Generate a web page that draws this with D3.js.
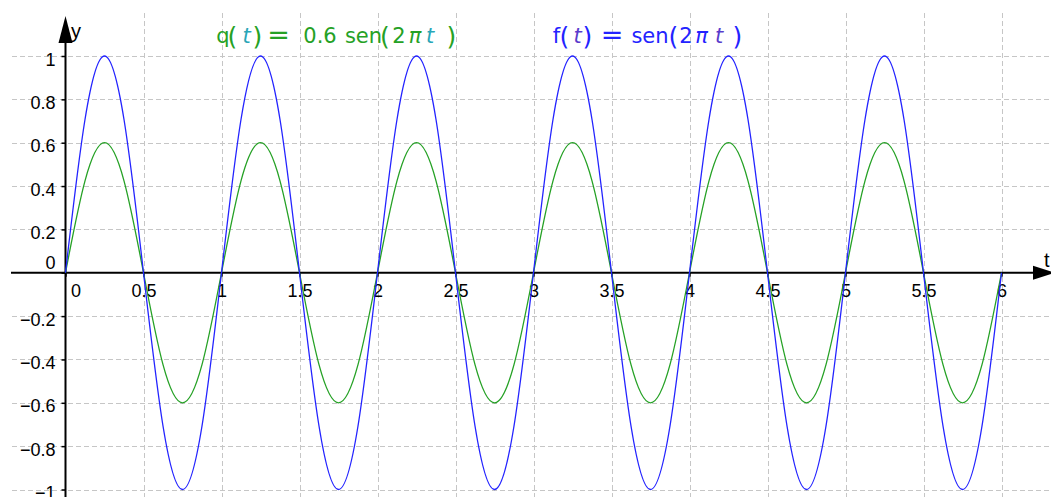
<!DOCTYPE html>
<html>
<head>
<meta charset="utf-8">
<script src="https://cdn.jsdelivr.net/npm/d3@7"></script>
<style>
  body { margin: 0; background: #fff; }
  svg { display: block; }
</style>
</head>
<body>
<svg id="chart" width="1051" height="497"></svg>
<script>
// sample points, every 1/8 of a period
var tSamples = [
  0, 0.125, 0.25, 0.375, 0.5, 0.625, 0.75, 0.875,
  1, 1.125, 1.25, 1.375, 1.5, 1.625, 1.75, 1.875,
  2, 2.125, 2.25, 2.375, 2.5, 2.625, 2.75, 2.875,
  3, 3.125, 3.25, 3.375, 3.5, 3.625, 3.75, 3.875,
  4, 4.125, 4.25, 4.375, 4.5, 4.625, 4.75, 4.875,
  5, 5.125, 5.25, 5.375, 5.5, 5.625, 5.75, 5.875,
  6
];
var fValues = [
  0, 0.707, 1, 0.707, 0, -0.707, -1, -0.707,
  0, 0.707, 1, 0.707, 0, -0.707, -1, -0.707,
  0, 0.707, 1, 0.707, 0, -0.707, -1, -0.707,
  0, 0.707, 1, 0.707, 0, -0.707, -1, -0.707,
  0, 0.707, 1, 0.707, 0, -0.707, -1, -0.707,
  0, 0.707, 1, 0.707, 0, -0.707, -1, -0.707,
  0
];
var qValues = [
  0, 0.424, 0.6, 0.424, 0, -0.424, -0.6, -0.424,
  0, 0.424, 0.6, 0.424, 0, -0.424, -0.6, -0.424,
  0, 0.424, 0.6, 0.424, 0, -0.424, -0.6, -0.424,
  0, 0.424, 0.6, 0.424, 0, -0.424, -0.6, -0.424,
  0, 0.424, 0.6, 0.424, 0, -0.424, -0.6, -0.424,
  0, 0.424, 0.6, 0.424, 0, -0.424, -0.6, -0.424,
  0
];

var xTicks = [0, 0.5, 1, 1.5, 2, 2.5, 3, 3.5, 4, 4.5, 5, 5.5, 6];
var xTickLabels = ["0", "0.5", "1", "1.5", "2", "2.5", "3", "3.5", "4", "4.5", "5", "5.5", "6"];
var yTicks = [-1, -0.8, -0.6, -0.4, -0.2, 0, 0.2, 0.4, 0.6, 0.8, 1];
var yTickLabels = ["\u22121", "\u22120.8", "\u22120.6", "\u22120.4", "\u22120.2", "0", "0.2", "0.4", "0.6", "0.8", "1"];

// formula labels, one token per entry
var qLabelTokens = ["q", "(", "t", ")", "=", "0.6", "sen", "(", "2", "\u03c0", "t", ")"];
var fLabelTokens = ["f", "(", "t", ")", "=", "sen", "(", "2", "\u03c0", "t", ")"];

var width = 1051, height = 497;
var blue = "#2323ff", green = "#25a125";

var svg = d3.select("#chart");

var x = d3.scaleLinear().domain([0, 6]).range([65.5, 1001.5]);
var y = d3.scaleLinear().domain([-1, 1]).range([489.5, 56]);

// grid
var grid = svg.append("g")
  .attr("stroke", "#c6c6c6")
  .attr("stroke-width", 1)
  .attr("stroke-dasharray", "5,3");

grid.selectAll(".vgrid")
  .data(xTicks.filter(function(d) { return d !== 0; }))
  .enter().append("line")
  .attr("x1", function(d) { return Math.round(x(d)) + 0.5; })
  .attr("x2", function(d) { return Math.round(x(d)) + 0.5; })
  .attr("y1", 13)
  .attr("y2", height);

grid.selectAll(".hgrid")
  .data(yTicks.filter(function(d) { return d !== 0; }))
  .enter().append("line")
  .attr("x1", 12)
  .attr("x2", width)
  .attr("y1", function(d) { return Math.round(y(d)) + 0.5; })
  .attr("y2", function(d) { return Math.round(y(d)) + 0.5; });

// axes
var y0 = y(0), x0 = x(0);

svg.append("line")
  .attr("x1", 11).attr("x2", 1036)
  .attr("y1", y0).attr("y2", y0)
  .attr("stroke", "#000").attr("stroke-width", 2);
svg.append("path")
  .attr("d", "M1033," + (y0 - 7) + "L1055," + y0 + "L1033," + (y0 + 7) + "Z")
  .attr("fill", "#000");

svg.append("line")
  .attr("x1", x0).attr("x2", x0)
  .attr("y1", height).attr("y2", 40)
  .attr("stroke", "#000").attr("stroke-width", 2);
svg.append("path")
  .attr("d", "M" + (x0 - 7) + ",43L" + x0 + ",16L" + (x0 + 7) + ",43Z")
  .attr("fill", "#000");

var xAxis = d3.axisBottom(x)
  .tickValues(xTicks)
  .tickSize(4)
  .tickFormat(function(d, i) { return xTickLabels[i]; });

var gx = svg.append("g")
  .attr("transform", "translate(0," + y0 + ")")
  .call(xAxis);
gx.select(".domain").remove();
gx.selectAll("line").attr("stroke", "#000").attr("stroke-width", 1.5);
gx.selectAll("text")
  .attr("y", 24)
  .attr("dy", 0)
  .attr("fill", "#000")
  .style("font-family", "Liberation Sans, Arial, sans-serif")
  .style("font-size", "18px");
gx.selectAll(".tick").filter(function(d) { return d === 0; })
  .select("text").attr("x", 10);

var yAxis = d3.axisLeft(y)
  .tickValues(yTicks)
  .tickSize(4)
  .tickPadding(6)
  .tickFormat(function(d, i) { return yTickLabels[i]; });

var gy = svg.append("g")
  .attr("transform", "translate(" + x0 + ",0)")
  .call(yAxis);
gy.select(".domain").remove();
gy.selectAll("line").attr("stroke", "#000").attr("stroke-width", 1.5);
gy.selectAll("text")
  .attr("dy", 9)
  .attr("fill", "#000")
  .style("font-family", "Liberation Sans, Arial, sans-serif")
  .style("font-size", "18px");
gy.selectAll(".tick").filter(function(d) { return d === 0; })
  .select("text").attr("dy", -4);

// axis names
svg.append("text").attr("x", 71).attr("y", 38).text("y")
  .style("font-family", "Liberation Sans, Arial, sans-serif").style("font-size", "20px");
svg.append("text").attr("x", 1044).attr("y", 267).text("t")
  .style("font-family", "Liberation Sans, Arial, sans-serif").style("font-size", "20px");

// curves
var line = d3.line()
  .x(function(d) { return x(d[0]); })
  .y(function(d) { return y(d[1]); })
  .curve(d3.curveNatural);

svg.append("path")
  .datum(tSamples.map(function(t, i) { return [t, qValues[i]]; }))
  .attr("d", line)
  .attr("fill", "none")
  .attr("stroke", green)
  .attr("stroke-width", 1.3);

svg.append("path")
  .datum(tSamples.map(function(t, i) { return [t, fValues[i]]; }))
  .attr("d", line)
  .attr("fill", "none")
  .attr("stroke", blue)
  .attr("stroke-width", 1.3);

// function labels, each token centred where the formula renderer put it
function drawLabel(tokens, centers, color, varColor) {
  var g = svg.append("g")
    .style("font-family", "DejaVu Sans, sans-serif")
    .style("font-size", "21px")
    .attr("text-anchor", "middle");
  tokens.forEach(function(tok, i) {
    var paren = tok === "(" || tok === ")";
    var isVar = tok === "t";
    var italic = isVar || tok === "\u03c0";
    g.append("text")
      .attr("x", centers[i])
      .attr("y", paren ? 45 : (tok === "=" ? 44 : 43))
      .attr("fill", isVar ? varColor : color)
      .style("font-style", italic ? "italic" : "normal")
      .style("font-size", paren ? "25px" : (tok === "=" ? "27px" : null))
      .text(tok);
  });
}

drawLabel(qLabelTokens,
  [223, 232.5, 246.5, 257.5, 278.5, 320, 363.5, 385, 399, 415, 430, 451.5],
  green, "#2aa6b8");

drawLabel(fLabelTokens,
  [556.5, 564.5, 577.5, 587.5, 612, 650, 673.5, 686, 701.5, 719, 737.5],
  blue, "#5a3ccc");
</script>
</body>
</html>
